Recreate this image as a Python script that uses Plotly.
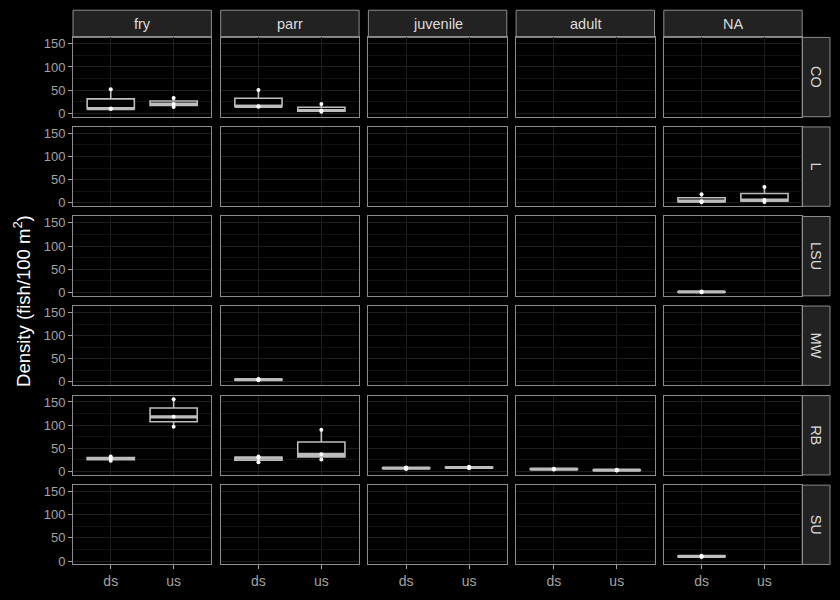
import numpy as np
import plotly.graph_objects as go

# ---------------- data ----------------
stages = ["fry", "parr", "juvenile", "adult", "NA"]
species = ["CO", "L", "LSU", "MW", "RB", "SU"]
locations = ["ds", "us"]
y_ticks = [0, 50, 100, 150]
y_minor = [25, 75, 125]

# fish density observations (fish/100 m^2) per species / stage / location
co_fry_ds = [9, 10, 52]
co_fry_us = [13.5, 20, 33]
co_parr_ds = [14, 15, 50]
co_parr_us = [3, 6, 20]
l_na_ds = [1, 3.5, 18.5]
l_na_us = [2, 6, 34]
lsu_na_ds = [0.3, 1, 1.8]
mw_parr_ds = [3.5, 5, 6.5]
rb_fry_ds = [23, 28, 32]
rb_fry_us = [96.5, 118, 156]
rb_parr_ds = [20, 29, 32]
rb_parr_us = [26, 37, 90]
rb_juvenile_ds = [5.5, 7, 8.5]
rb_juvenile_us = [7, 8.5, 10]
rb_adult_ds = [4, 5, 6]
rb_adult_us = [2, 2.8, 3.5]
su_na_ds = [8.5, 10, 11.5]

groups = {
    ("CO", "fry", "ds"): co_fry_ds,
    ("CO", "fry", "us"): co_fry_us,
    ("CO", "parr", "ds"): co_parr_ds,
    ("CO", "parr", "us"): co_parr_us,
    ("L", "NA", "ds"): l_na_ds,
    ("L", "NA", "us"): l_na_us,
    ("LSU", "NA", "ds"): lsu_na_ds,
    ("MW", "parr", "ds"): mw_parr_ds,
    ("RB", "fry", "ds"): rb_fry_ds,
    ("RB", "fry", "us"): rb_fry_us,
    ("RB", "parr", "ds"): rb_parr_ds,
    ("RB", "parr", "us"): rb_parr_us,
    ("RB", "juvenile", "ds"): rb_juvenile_ds,
    ("RB", "juvenile", "us"): rb_juvenile_us,
    ("RB", "adult", "ds"): rb_adult_ds,
    ("RB", "adult", "us"): rb_adult_us,
    ("SU", "NA", "ds"): su_na_ds,
}

# ---------------- style ----------------
W, H = 840, 600
BG = "#000000"
GRID_MAJOR = "#1e1e1e"
GRID_MINOR = "#121212"
BORDER = "#8c8c8c"
STRIP_BG = "#222222"
STRIP_TXT = "#dcdcdc"
TICK_TXT = "#a3a3a3"
BOXC = "#bdbdbd"
FONT = "Liberation Sans, Arial, sans-serif"

col_left0, col_w, col_step = 73.0, 138.4, 147.7
row_top0, row_h, row_step = 36.7, 80.0, 90.3
strip_top = 9.3
rstrip_w = 27.8

all_vals = np.concatenate([np.asarray(v, float) for v in groups.values()])
vmin, vmax = all_vals.min(), all_vals.max()
pad = 0.05 * (vmax - vmin)
y_range = [vmin - pad, vmax + pad]
x_range = [-0.6, 1.6]
BOX_W = 0.75


def px_x(p):
    return p / W


def px_y(p):
    return 1 - p / H


def box_stats(v):
    v = np.asarray(v, float)
    q1, med, q3 = np.percentile(v, [25, 50, 75])
    iqr = q3 - q1
    lo = v[v >= q1 - 1.5 * iqr].min()
    hi = v[v <= q3 + 1.5 * iqr].max()
    return q1, med, q3, lo, hi


fig = go.Figure()
layout = dict(
    width=W, height=H,
    margin=dict(l=0, r=0, t=0, b=0),
    paper_bgcolor=BG, plot_bgcolor=BG,
    showlegend=False,
    font=dict(family=FONT, color=TICK_TXT, size=13),
)
shapes, annotations = [], []

for j, sp in enumerate(species):
    top = row_top0 + j * row_step
    bot = top + row_h
    for i, st in enumerate(stages):
        left = col_left0 + i * col_step
        right = left + col_w
        n = j * len(stages) + i + 1
        xa = "x" if n == 1 else f"x{n}"
        ya = "y" if n == 1 else f"y{n}"
        bottom_row = j == len(species) - 1
        first_col = i == 0
        layout["xaxis" if n == 1 else f"xaxis{n}"] = dict(
            domain=[px_x(left), px_x(right)], anchor=ya,
            range=x_range, tickvals=[0, 1], ticktext=locations,
            showticklabels=bottom_row, ticks="outside" if bottom_row else "",
            ticklen=4, tickcolor=TICK_TXT, tickwidth=1,
            tickfont=dict(size=14, color=TICK_TXT),
            showgrid=True, gridcolor=GRID_MAJOR, gridwidth=1,
            zeroline=False, showline=True, mirror=True,
            linecolor=BORDER, linewidth=1, fixedrange=True,
        )
        layout["yaxis" if n == 1 else f"yaxis{n}"] = dict(
            domain=[px_y(bot), px_y(top)], anchor=xa,
            range=y_range, tickvals=y_ticks,
            showticklabels=first_col, ticks="outside" if first_col else "",
            ticklen=4, tickcolor=TICK_TXT, tickwidth=1,
            tickfont=dict(size=13, color=TICK_TXT),
            showgrid=True, gridcolor=GRID_MAJOR, gridwidth=1,
            minor=dict(tickvals=y_minor, showgrid=True, gridcolor=GRID_MINOR, gridwidth=1),
            zeroline=False, showline=True, mirror=True,
            linecolor=BORDER, linewidth=1, fixedrange=True,
        )
        # placeholder trace so that empty facets are still drawn
        fig.add_trace(go.Scatter(x=[None], y=[None], mode="markers",
                                 xaxis=xa, yaxis=ya, hoverinfo="skip"))
        for k, loc in enumerate(locations):
            vals = groups.get((sp, st, loc))
            if vals is None:
                continue
            q1, med, q3, lo, hi = box_stats(vals)
            fig.add_trace(go.Box(
                x=[k], q1=[q1], median=[med], q3=[q3],
                lowerfence=[lo], upperfence=[hi],
                width=BOX_W, whiskerwidth=0, boxpoints=False,
                line=dict(color=BOXC, width=1.6), fillcolor=BG,
                xaxis=xa, yaxis=ya, hoverinfo="skip",
            ))
            fig.add_trace(go.Scatter(
                x=[k - BOX_W / 2, k + BOX_W / 2], y=[med, med], mode="lines",
                line=dict(color=BOXC, width=3.2),
                xaxis=xa, yaxis=ya, hoverinfo="skip",
            ))
            fig.add_trace(go.Scatter(
                x=[k] * len(vals), y=vals, mode="markers",
                marker=dict(color="white", size=4),
                xaxis=xa, yaxis=ya, hoverinfo="skip",
            ))
        # top strips
        if j == 0:
            shapes.append(dict(type="rect", xref="paper", yref="paper",
                               x0=px_x(left), x1=px_x(right),
                               y0=px_y(top), y1=px_y(strip_top),
                               fillcolor=STRIP_BG, line=dict(color=BORDER, width=1),
                               layer="below"))
            annotations.append(dict(text=st, xref="paper", yref="paper",
                                    x=px_x((left + right) / 2),
                                    y=px_y((top + strip_top) / 2),
                                    showarrow=False, xanchor="center", yanchor="middle",
                                    font=dict(size=14.5, color=STRIP_TXT, family=FONT)))
        # right strips
        if i == len(stages) - 1:
            shapes.append(dict(type="rect", xref="paper", yref="paper",
                               x0=px_x(right), x1=px_x(right + rstrip_w),
                               y0=px_y(bot), y1=px_y(top),
                               fillcolor=STRIP_BG, line=dict(color=BORDER, width=1),
                               layer="below"))
            annotations.append(dict(text=sp, xref="paper", yref="paper",
                                    x=px_x(right + rstrip_w / 2),
                                    y=px_y((top + bot) / 2),
                                    showarrow=False, xanchor="center", yanchor="middle",
                                    textangle=90,
                                    font=dict(size=14.5, color=STRIP_TXT, family=FONT)))

annotations.append(dict(
    text="Density (fish/100 m<sup>2</sup>)", xref="paper", yref="paper",
    x=px_x(22), y=px_y((row_top0 + row_top0 + 5 * row_step + row_h) / 2),
    showarrow=False, textangle=-90, xanchor="center", yanchor="middle",
    font=dict(size=18.5, color="#ffffff", family=FONT)))

layout["shapes"] = shapes
layout["annotations"] = annotations
fig.update_layout(**layout)
fig.write_html("out.html")
